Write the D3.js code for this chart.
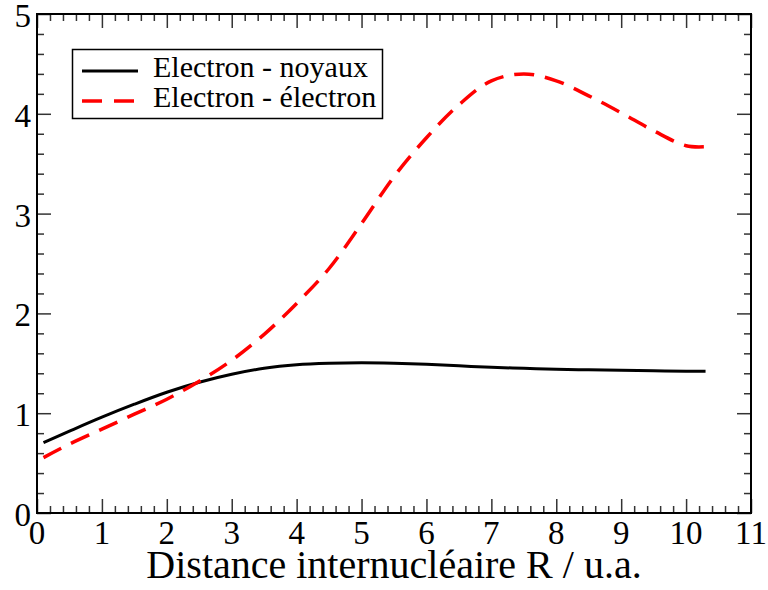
<!DOCTYPE html>
<html>
<head>
<meta charset="utf-8">
<script src="https://cdn.jsdelivr.net/npm/d3@7"></script>
<style>
  body { margin: 0; background: #fff; }
  svg text { font-family: "Liberation Serif", "Times New Roman", serif; }
</style>
</head>
<body>
<svg id="chart" width="768" height="590"></svg>
<script>
// distance R (u.a.)
var distances = [0.1, 0.5, 1, 1.5, 2, 2.5, 3, 3.5, 4, 4.5, 5, 5.5, 6, 6.5, 7, 7.5, 8, 8.5, 9, 9.5, 10, 10.3]
var electronNoyaux = [0.705, 0.82, 0.96, 1.09, 1.21, 1.31, 1.39, 1.45, 1.485, 1.50, 1.505, 1.50, 1.49, 1.475, 1.46, 1.45, 1.44, 1.435, 1.43, 1.425, 1.42, 1.42]
var electronElectron = [0.555, 0.69, 0.84, 0.99, 1.14, 1.32, 1.53, 1.79, 2.10, 2.45, 2.90, 3.37, 3.76, 4.09, 4.33, 4.40, 4.33, 4.18, 4.01, 3.83, 3.68, 3.67]
var xTicks = [0, 1, 2, 3, 4, 5, 6, 7, 8, 9, 10, 11]
var yTicks = [0, 1, 2, 3, 4, 5]
var seriesNames = ["Electron - noyaux", "Electron - électron"]

var svg = d3.select('#chart')
var pLeft = 37, pRight = 751, pTop = 14, pBottom = 513

var x = d3.scaleLinear().domain([0, 11]).range([pLeft, pRight])
var y = d3.scaleLinear().domain([0, 5]).range([pBottom, pTop])

// minor ticks every 0.2
var xMinor = d3.range(0, 55).map(i => i / 5).filter(v => v % 1 !== 0)
var yMinor = d3.range(0, 25).map(i => i / 5).filter(v => v % 1 !== 0)

function drawAxis(g, axis) {
  g.call(axis)
  g.select('.domain').remove()
  g.selectAll('line').attr('stroke', '#333').attr('stroke-width', 1.5)
}

// bottom / top
drawAxis(svg.append('g').attr('transform', `translate(0,${pBottom})`),
  d3.axisTop(x).tickValues(xMinor).tickSize(7).tickFormat(''))
drawAxis(svg.append('g').attr('transform', `translate(0,${pBottom})`),
  d3.axisTop(x).tickValues(xTicks).tickSize(14).tickFormat(''))
drawAxis(svg.append('g').attr('transform', `translate(0,${pTop})`),
  d3.axisBottom(x).tickValues(xMinor).tickSize(7).tickFormat(''))
drawAxis(svg.append('g').attr('transform', `translate(0,${pTop})`),
  d3.axisBottom(x).tickValues(xTicks).tickSize(14).tickFormat(''))
// left / right
drawAxis(svg.append('g').attr('transform', `translate(${pLeft},0)`),
  d3.axisRight(y).tickValues(yMinor).tickSize(7).tickFormat(''))
drawAxis(svg.append('g').attr('transform', `translate(${pLeft},0)`),
  d3.axisRight(y).tickValues(yTicks).tickSize(14).tickFormat(''))
drawAxis(svg.append('g').attr('transform', `translate(${pRight},0)`),
  d3.axisLeft(y).tickValues(yMinor).tickSize(7).tickFormat(''))
drawAxis(svg.append('g').attr('transform', `translate(${pRight},0)`),
  d3.axisLeft(y).tickValues(yTicks).tickSize(14).tickFormat(''))

// tick labels
svg.append('g').selectAll('text').data(xTicks).join('text')
  .attr('x', d => x(d))
  .attr('y', 544)
  .attr('text-anchor', 'middle')
  .attr('font-size', 33)
  .text(d => d)
svg.append('g').selectAll('text').data(yTicks).join('text')
  .attr('x', 31)
  .attr('y', d => y(d) + 13)
  .attr('text-anchor', 'end')
  .attr('font-size', 33)
  .text(d => d)

svg.append('text')
  .attr('x', (pLeft + pRight) / 2)
  .attr('y', 578)
  .attr('text-anchor', 'middle')
  .attr('font-size', 40)
  .text('Distance internucléaire R / u.a.')

// curves
var line = d3.line()
  .x((d, i) => x(distances[i]))
  .y(d => y(d))
  .curve(d3.curveCatmullRom)

svg.append('path')
  .datum(electronNoyaux)
  .attr('d', line)
  .attr('fill', 'none')
  .attr('stroke', 'black')
  .attr('stroke-width', 3)

svg.append('path')
  .datum(electronElectron)
  .attr('d', line)
  .attr('fill', 'none')
  .attr('stroke', 'red')
  .attr('stroke-width', 3.5)
  .attr('stroke-dasharray', '20,11')

// frame
svg.append('rect')
  .attr('x', pLeft).attr('y', pTop)
  .attr('width', pRight - pLeft).attr('height', pBottom - pTop)
  .attr('fill', 'none')
  .attr('stroke', 'black')
  .attr('stroke-width', 2)

// legend
var legend = svg.append('g')
legend.append('rect')
  .attr('x', 72.5).attr('y', 49.5)
  .attr('width', 310).attr('height', 69)
  .attr('fill', 'white')
  .attr('stroke', 'black')
  .attr('stroke-width', 1.5)

var legendStyles = [
  { color: 'black', dash: null, width: 3 },
  { color: 'red', dash: '20,12', width: 3.5 }
]
seriesNames.forEach((name, i) => {
  var yy = 71 + i * 30
  legend.append('line')
    .attr('x1', 82).attr('x2', 138)
    .attr('y1', yy).attr('y2', yy)
    .attr('stroke', legendStyles[i].color)
    .attr('stroke-width', legendStyles[i].width)
    .attr('stroke-dasharray', legendStyles[i].dash)
  legend.append('text')
    .attr('x', 153)
    .attr('y', yy + 6)
    .attr('font-size', 30)
    .text(name)
})
</script>
</body>
</html>
